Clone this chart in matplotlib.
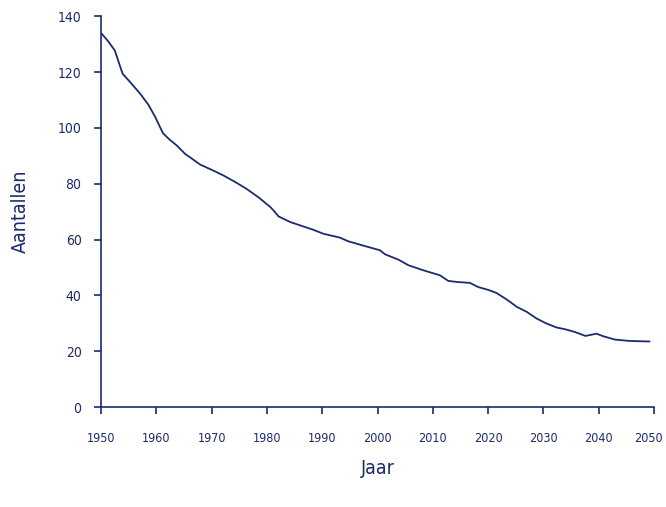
import matplotlib.pyplot as plt
from matplotlib.transforms import ScaledTranslation

# Jaar en aantallen
jaren = [1950, 1951.3, 1952.5, 1953.2, 1953.9, 1955, 1957.1, 1958.6, 1959.8, 1960.5,
         1961.2, 1962.4, 1963.7, 1965.2, 1966.5, 1967.9, 1970, 1972.1, 1974.2,
         1976.3, 1978.5, 1980.6, 1981.3, 1982.1, 1984.2, 1986.3, 1988.4, 1990.2,
         1993.2, 1994.7, 1997.5, 2000.4, 2001.4, 2003.8, 2005.6, 2008.3, 2011.3,
         2012.8, 2014.5, 2016.7, 2018.2, 2020, 2021.5, 2023.4, 2025.2, 2027, 2028.8,
         2030.5, 2032.4, 2033.9, 2035.7, 2037.6, 2039.6, 2040.8, 2042.9, 2045.6,
         2049.2]
aantallen = [134, 131, 127.7, 123.5, 119.4, 117, 112.2, 108.2, 103.9, 101,
             98.1, 95.8, 93.7, 90.7, 88.9, 86.9, 85, 83, 80.7,
             78.2, 75.1, 71.7, 70.2, 68.3, 66.3, 64.9, 63.5, 62.1,
             60.7, 59.4, 57.8, 56.2, 54.7, 52.8, 50.8, 49, 47.2,
             45.2, 44.8, 44.5, 43, 42, 40.9, 38.5, 35.9, 34.1, 31.7,
             30, 28.5, 27.9, 26.9, 25.5, 26.3, 25.4, 24.2, 23.7,
             23.5]

x_ticks = list(range(1950, 2051, 10))
y_ticks = list(range(0, 141, 20))

kleur = "#1c2b6b"
plt.rcParams["font.family"] = ["DejaVu Sans"]
plt.rcParams["font.stretch"] = "condensed"

fig = plt.figure(figsize=(6.66, 5.07), dpi=100)
ax = fig.add_axes([0.1517, 0.197, 0.8303, 0.771])
ax.plot(jaren, aantallen, color=kleur, linewidth=1.3,
        solid_joinstyle="round", solid_capstyle="round")

ax.set_xlim(1950, 2050)
ax.set_ylim(0, 140)
ax.set_xticks(x_ticks)
ax.set_yticks(y_ticks)

for kant in ["top", "right"]:
    ax.spines[kant].set_visible(False)
for kant in ["left", "bottom"]:
    ax.spines[kant].set_color(kleur)
    ax.spines[kant].set_linewidth(1.2)

ax.tick_params(axis="x", colors=kleur, direction="out", length=5, width=1.2,
               labelsize=9, pad=13)
ax.tick_params(axis="y", colors=kleur, direction="out", length=5, width=1.2,
               labelsize=10, pad=9)

# laatste jaartal iets naar links, zoals in het origineel
laatste = ax.get_xticklabels()[-1]
laatste.set_transform(laatste.get_transform()
                      + ScaledTranslation(-4 / 72, 0, fig.dpi_scale_trans))

ax.set_xlabel("Jaar", color=kleur, fontsize=14, labelpad=10)
ax.set_ylabel("Aantallen", color=kleur, fontsize=14, labelpad=20)

fig.savefig("out.png", dpi=100)
plt.close(fig)
